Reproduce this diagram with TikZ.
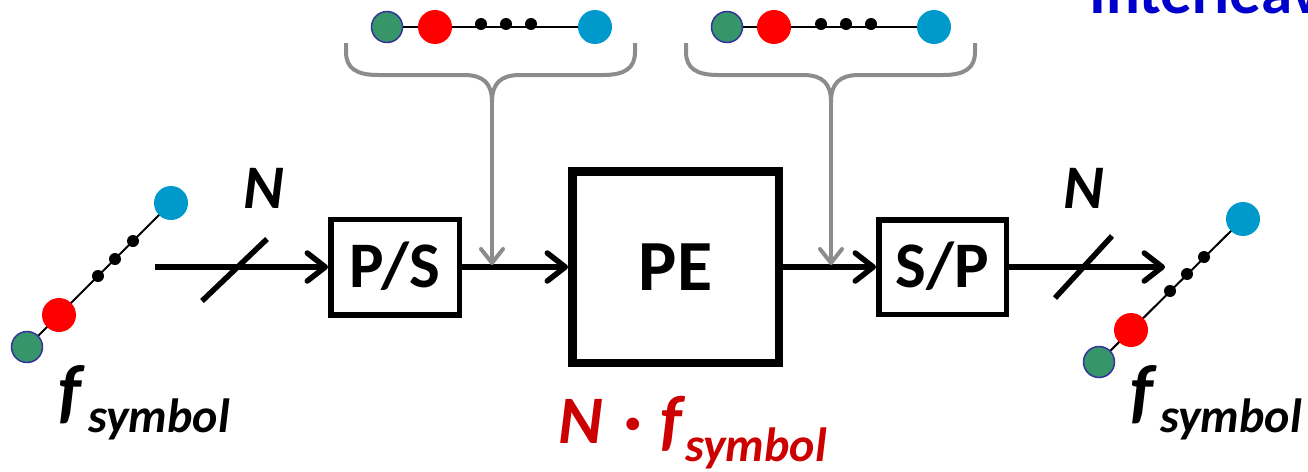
\documentclass[tikz,border=0pt]{standalone}
\usepackage{fontspec}
\setmainfont{Carlito}
\usetikzlibrary{arrows.meta,backgrounds}
\definecolor{cgreen}{HTML}{36966A}
\definecolor{cgreenedge}{HTML}{333399}
\definecolor{cred}{HTML}{FF0000}
\definecolor{cblue}{HTML}{0099CC}
\definecolor{cgray}{HTML}{8C8C8C}
\definecolor{labred}{HTML}{CC0000}
\definecolor{labblue}{HTML}{0000CC}
\newcommand\bfitfont[1]{\bfseries\itshape\fontsize{#1}{#1}\selectfont}
\newcommand\bffont[1]{\bfseries\fontsize{#1}{#1}\selectfont}
\begin{document}
\begin{tikzpicture}[x=1pt,y=-1pt,
  bigsym/.style={circle,inner sep=0pt,minimum size=34pt},
  gsym/.style={circle,inner sep=0pt,fill=cgreen,draw=cgreenedge,line width=1.5pt,minimum size=31pt},
  rsym/.style={bigsym,fill=cred},
  bsym/.style={bigsym,fill=cblue},
  dsym/.style={circle,fill=black,inner sep=0pt,minimum size=12pt},
  chainline/.style={line width=2pt},
  blk/.style={draw,line width=5.5pt,inner sep=0pt,text depth=0pt},
  mainarrow/.style={line width=5.5pt,-{Straight Barb[length=18pt,width=28pt,round]}},
  slashmark/.style={line width=5.5pt},
  feed/.style={cgray,line width=4pt,-{Straight Barb[length=14pt,width=22pt,round]}},
  bracepath/.style={cgray,line width=4pt},
  lab/.style={inner sep=0pt,anchor=base west}]
\useasboundingbox (0,0) rectangle (1308,471);
\clip (0,0) rectangle (1308,471);

% ---- left symbol chain
\node[gsym] (lg) at (27,347) {};
\node[rsym] (lr) at (59,315) {};
\node[dsym] (ld1) at (98,276) {};
\node[dsym] (ld2) at (115,259) {};
\node[dsym] (ld3) at (133,241) {};
\node[bsym] (lb) at (171,203) {};

% ---- right symbol chain
\node[gsym] (rg) at (1099,362) {};
\node[rsym] (rr) at (1131,330) {};
\node[dsym] (rd1) at (1170,291) {};
\node[dsym] (rd2) at (1187,274) {};
\node[dsym] (rd3) at (1204,257) {};
\node[bsym] (rb) at (1243,219) {};

% ---- top chains
\node[gsym] (t1g) at (387,27) {};
\node[rsym] (t1r) at (435,27) {};
\node[dsym] (t1d1) at (481,24) {};
\node[dsym] (t1d2) at (506,24) {};
\node[dsym] (t1d3) at (531,24) {};
\node[bsym] (t1b) at (595,27) {};

\node[gsym] (t2g) at (727,27) {};
\node[rsym] (t2r) at (774,27) {};
\node[dsym] (t2d1) at (821,24) {};
\node[dsym] (t2d2) at (846,24) {};
\node[dsym] (t2d3) at (871,24) {};
\node[bsym] (t2b) at (934,27) {};

\begin{scope}[on background layer]
  \draw[chainline] (lg.center) -- (lb.center);
  \draw[chainline] (rg.center) -- (rb.center);
  \draw[chainline] (t1g.center) -- (t1b.center);
  \draw[chainline] (t2g.center) -- (t2b.center);
\end{scope}

% ---- blocks
\node[blk,minimum width=128.5pt,minimum height=95.5pt,text height=41pt,font=\bffont{65}] (ps) at (395,267) {P/S};
\node[blk,line width=8.5pt,minimum width=206.5pt,minimum height=191.5pt,text height=46pt,font=\bffont{72}] (pe) at (675.5,267) {PE};
\node[blk,minimum width=127.5pt,minimum height=94.5pt,text height=41pt,font=\bffont{65}] (sp) at (942.5,267) {S/P};

% ---- main signal path
\coordinate (inp) at (155,267);
\coordinate (outp) at (1165,267);
\draw[mainarrow] (inp) -- (ps.west);
\draw[mainarrow] (ps.east) -- (pe.west);
\draw[mainarrow] (pe.east) -- (sp.west);
\draw[mainarrow] (sp.east) -- (outp);
\draw[slashmark] (202,301) -- (267,239);
\draw[slashmark] (1055,298) -- (1112,236);

% ---- braces and feed arrows
\draw[bracepath] (346,43) -- (346,52) .. controls (346,68) and (356,75) .. (378,75) -- (464,75) .. controls (484,75) and (492,84) .. (492,102);
\draw[bracepath] (635,43) -- (635,52) .. controls (635,68) and (625,75) .. (603,75) -- (520,75) .. controls (500,75) and (492,84) .. (492,102);
\coordinate (bt1) at (492,96);
\coordinate (fp1) at (492,265);
\draw[feed] (bt1) -- (fp1);

\draw[bracepath] (686,43) -- (686,52) .. controls (686,68) and (696,75) .. (718,75) -- (803,75) .. controls (823,75) and (831,84) .. (831,102);
\draw[bracepath] (975,43) -- (975,52) .. controls (975,68) and (965,75) .. (943,75) -- (859,75) .. controls (839,75) and (831,84) .. (831,102);
\coordinate (bt2) at (831,96);
\coordinate (fp2) at (831,265);
\draw[feed] (bt2) -- (fp2);

% ---- labels
\node[lab,font=\bfitfont{62}] (nl) at (243,208) {N};
\node[lab,font=\bfitfont{62}] (nr) at (1063,208) {N};

\node[lab,font=\bfitfont{72}] (fl) at (58,415) {f};
\node[lab,font=\bfitfont{48}] (sl) at (88,432) {symbol};
\node[lab,font=\bfitfont{72}] (fr) at (1130,415) {f};
\node[lab,font=\bfitfont{48}] (sr) at (1160,432) {symbol};

\node[lab,font=\bfitfont{68},text=labred] (rn) at (558,443) {N};
\node[lab,font=\bfitfont{68},text=labred] (rdot) at (623,443) {·};
\node[lab,font=\bfitfont{68},text=labred] (rf) at (660,443) {f};
\node[lab,font=\bfitfont{48},text=labred] (rs) at (685,461) {symbol};

\node[lab,font=\bffont{63},text=labblue] (il) at (1089,13) {Interleav};
\end{tikzpicture}
\end{document}
